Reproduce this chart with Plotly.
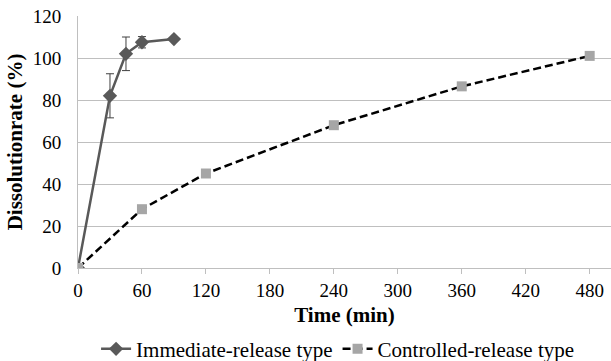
import plotly.graph_objects as go

ir_time = [0, 30, 45, 60, 90]
ir_rate = [0, 82, 102, 107.5, 109]
ir_err = [0, 10.5, 8, 2.7, 0.5]

cr_time = [0, 60, 120, 240, 360, 480]
cr_rate = [0, 28, 45, 68, 86.5, 101]

x_ticks = [0, 60, 120, 180, 240, 300, 360, 420, 480]
y_ticks = [0, 20, 40, 60, 80, 100, 120]

FONT = "Liberation Serif"

fig = go.Figure()
fig.add_trace(go.Scatter(
    x=ir_time, y=ir_rate, mode="lines+markers", name="Immediate-release type",
    line=dict(color="#595959", width=2.5),
    marker=dict(symbol="diamond", size=11, color="#595959"),
    error_y=dict(type="data", array=ir_err, visible=True, color="#404040", thickness=1, width=4),
))
fig.add_trace(go.Scatter(
    x=cr_time, y=cr_rate, mode="lines+markers", name="Controlled-release type",
    line=dict(color="black", width=2.5, dash="8px,4px"),
    marker=dict(symbol="square", size=10, color="#A6A6A6"),
))

fig.update_layout(
    width=611, height=361,
    margin=dict(l=78, r=0, t=16, b=93, autoexpand=False),
    paper_bgcolor="white", plot_bgcolor="white",
    font=dict(family=FONT, size=18, color="black"),
    legend=dict(orientation="h", x=0.487, xanchor="center", y=-0.322, yanchor="middle",
                font=dict(family=FONT, size=21, color="black"),
                itemwidth=30, tracegroupgap=0),
    showlegend=True,
)
fig.update_xaxes(
    range=[0, 500], tickvals=x_ticks, ticktext=[str(v) for v in x_ticks],
    showgrid=False, showline=True, linecolor="#BFBFBF", linewidth=1,
    ticks="outside", ticklen=5, tickcolor="#BFBFBF", automargin=False,
    ticklabelstandoff=0,
    title=dict(text="<b>Time (min)</b>", font=dict(family=FONT, size=21, color="black"), standoff=7),
    tickfont=dict(family=FONT, size=19, color="black"), zeroline=False,
)
fig.update_yaxes(
    range=[0, 120], tickvals=y_ticks, showgrid=True, gridcolor="#BFBFBF", gridwidth=1,
    showline=True, linecolor="#BFBFBF", linewidth=1, zeroline=False, automargin=False,
    ticklabelstandoff=12, ticks="",
    title=dict(text="<b>Dissolutionrate (%)</b>", font=dict(family=FONT, size=21, color="black"), standoff=4),
    tickfont=dict(family=FONT, size=19, color="black"),
)
fig.write_html("out.html", config={"displayModeBar": False},
               post_script="document.body.style.margin='0';document.body.style.overflow='hidden';")
